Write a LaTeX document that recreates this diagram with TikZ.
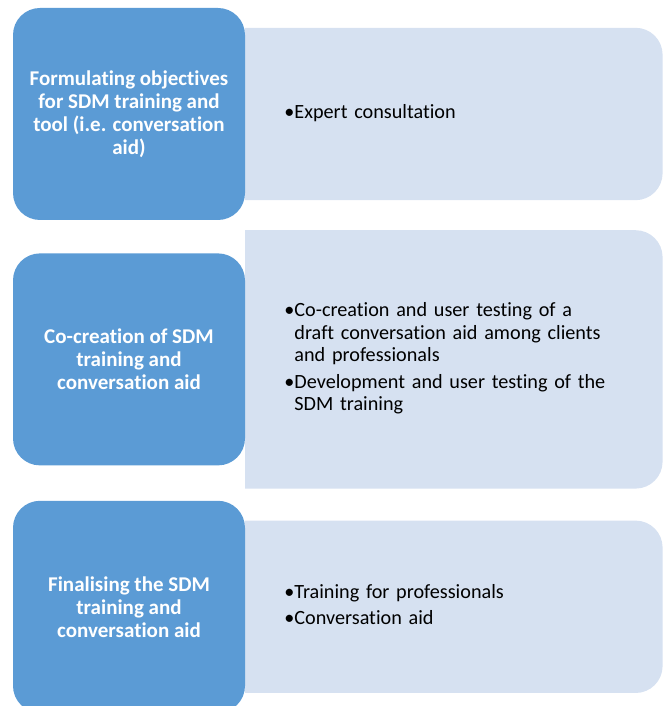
\documentclass[tikz,border=0pt]{standalone}
\usepackage{fontspec}
\setmainfont{Carlito}[Ligatures=NoCommon]
\usepackage{tikz}
\usetikzlibrary{positioning,backgrounds}
\definecolor{stageblue}{HTML}{5B9BD5}
\definecolor{stagelite}{HTML}{D6E1F1}

\begin{document}
\begin{tikzpicture}[
        x=1pt, y=1pt,
        stage/.style={fill=stageblue, rounded corners=27pt, text=white,
                   minimum width=232pt, minimum height=212pt, align=center,
                   inner sep=0pt, font=\fontsize{21}{23}\selectfont\bfseries},
        panel/.style={anchor=west, minimum height=#1, text width=339pt,
                   inner xsep=39pt, inner ysep=0pt, align=left,
                   font=\fontsize{20.2}{22.5}\selectfont},
    ]
        \useasboundingbox (0,0) rectangle (665,706);
        % Stage boxes on the left.
        \node[stage] (s1) at (129,592)
            {Formulating objectives\\for SDM training and\\tool (i.e. conversation\\aid)};
        \node[stage, below=33pt of s1] (s2)
            {Co-creation of SDM\\training and\\conversation aid};
        \node[stage, below=35pt of s2] (s3)
            {Finalising the SDM\\training and\\conversation aid};
        % Activities next to each stage.
        \node[panel=172pt, right=0pt of s1] (p1)
            {\begin{tabular}{@{}l@{}l@{}}
             •&Expert consultation
             \end{tabular}};
        \node[panel=258pt, right=0pt of s2] (p2)
            {\begin{tabular}{@{}l@{}l@{}}
             •&Co-creation and user testing of a\\
              &draft conversation aid among clients\\
              &and professionals\\[4pt]
             •&Development and user testing of the\\
              &SDM training
             \end{tabular}};
        \node[panel=172pt, right=0pt of s3] (p3)
            {\begin{tabular}{@{}l@{}l@{}}
             •&Training for professionals\\[3pt]
             •&Conversation aid
             \end{tabular}};
        % Panel fills: square at the stage side, rounded on the right.
        \begin{scope}[on background layer]
            \foreach \p in {p1,p2,p3}
                \fill[stagelite] (\p.south west) -- (\p.north west)
                    -- ([xshift=-27pt]\p.north east)
                    arc[start angle=90, end angle=0, radius=27pt]
                    -- ([yshift=27pt]\p.south east)
                    arc[start angle=0, end angle=-90, radius=27pt] -- cycle;
        \end{scope}
    \end{tikzpicture}
\end{document}
